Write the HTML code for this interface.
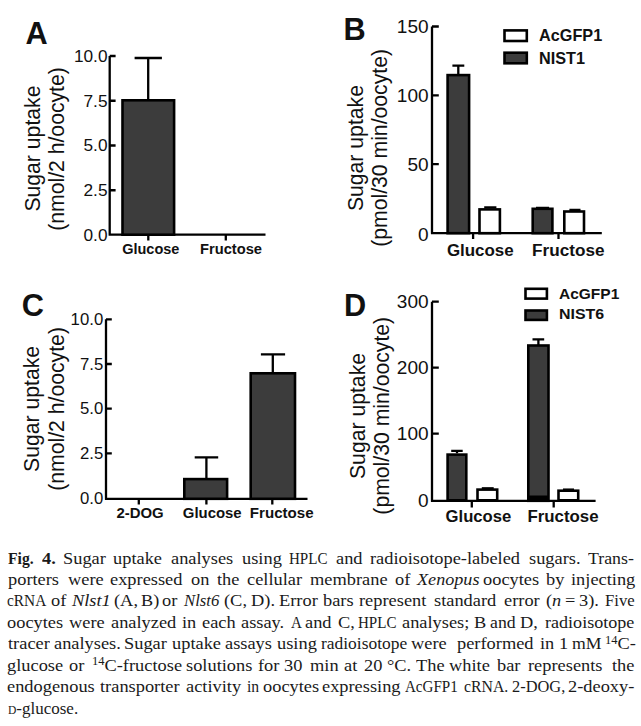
<!DOCTYPE html>
<html><head><meta charset="utf-8">
<style>
html,body{margin:0;padding:0;background:#fff;width:641px;height:726px;overflow:hidden;}
svg{position:absolute;left:0;top:0;}
.t{font-family:"Liberation Sans",sans-serif;fill:#111;}
.b{font-family:"Liberation Sans",sans-serif;font-weight:bold;fill:#111;}
#cap{position:absolute;left:0;top:0;width:641px;height:726px;font-family:"Liberation Serif",serif;font-size:17.5px;color:#1a1a1a;}
#cap sup{font-size:0.68em;line-height:0;vertical-align:0;position:relative;top:-0.45em;}
#cap>span{position:absolute;white-space:nowrap;line-height:20px;height:20px;transform-origin:0 15.9px;}
#cap .sc{font-size:0.68em;}
</style></head><body>
<svg width="641" height="726" viewBox="0 0 641 726">
<g stroke="#000" fill="none" stroke-width="2.3">
<!-- Panel A -->
<path d="M109.7 56V234.7M109.7 56H115.6M109.7 100.75H115.6M109.7 145.5H115.6M109.7 190.25H115.6M108.6 234.7H265.5M148.3 234.7V240.6M225.8 234.7V240.6"/>
<path d="M148.2 99V58M134.6 58H161.9"/>
<rect x="122.5" y="100.3" width="51.6" height="134.4" fill="#3c3c3c" stroke-width="2.6"/>
</g>
<text class="b" font-size="32" text-anchor="middle" transform="translate(36.5,43.9) scale(0.96,1)">A</text>
<g class="t" font-size="16.3" text-anchor="end">
<text transform="translate(107.5,61.8) scale(1.06,1)">10.0</text><text transform="translate(107.5,106.5) scale(1.06,1)">7.5</text><text transform="translate(107.5,151.3) scale(1.06,1)">5.0</text><text transform="translate(107.5,196) scale(1.06,1)">2.5</text><text transform="translate(107.5,240.8) scale(1.06,1)">0.0</text>
</g>
<g class="b" font-size="14.3" text-anchor="middle"><text transform="translate(150.8,254) scale(1.015,1)">Glucose</text><text transform="translate(231,254) scale(1.028,1)">Fructose</text></g>
<g class="t" font-size="21.2" text-anchor="middle">
<text transform="translate(40,148.6) rotate(-90)">Sugar uptake</text>
<text transform="translate(64.4,149) rotate(-90)">(nmol/2 h/oocyte)</text>
</g>

<!-- Panel B -->
<g stroke="#000" fill="none" stroke-width="2.3">
<path d="M432 26.5V233.2M432 26.5H438.8M432 95.3H438.8M432 164.1H438.8M430.9 233.2H601.8M473.1 233.2V239M558.5 233.2V239"/>
<path d="M458.3 74V65.6M452.4 65.6H464.3"/>
<path d="M484.2 207.4H496.4"/>
<path d="M536 207.9H549.1"/>
<path d="M569.4 209.9H580.5"/>
<rect x="447.6" y="75.1" width="21.5" height="158.1" fill="#3c3c3c" stroke-width="2.6"/>
<rect x="479.5" y="209.4" width="20.4" height="23.8" fill="#fff" stroke-width="2.6"/>
<rect x="532.7" y="208.8" width="19.7" height="24.4" fill="#3c3c3c" stroke-width="2.6"/>
<rect x="564.3" y="211.5" width="19.7" height="21.7" fill="#fff" stroke-width="2.6"/>
<rect x="504.5" y="30.4" width="22.3" height="10.6" fill="#fff" stroke-width="2.6"/>
<rect x="504.5" y="52.7" width="22.3" height="10.6" fill="#3c3c3c" stroke-width="2.6"/>
</g>
<text class="b" font-size="32" text-anchor="middle" transform="translate(354.5,39.6) scale(0.96,1)">B</text>
<g class="t" font-size="18" text-anchor="end">
<text transform="translate(428.6,33) scale(1.06,1)">150</text><text transform="translate(428.6,101.8) scale(1.06,1)">100</text><text transform="translate(428.6,170.6) scale(1.06,1)">50</text><text transform="translate(428.6,240.6) scale(1.06,1)">0</text>
</g>
<g class="b" font-size="15.7"><text transform="translate(539,41.3) scale(1.035,1)">AcGFP1</text><text transform="translate(539,63.6) scale(1.035,1)">NIST1</text></g>
<g class="b" font-size="16.7" text-anchor="middle"><text transform="translate(480.3,256.2) scale(1.015,1)">Glucose</text><text transform="translate(568.3,256.2) scale(1.028,1)">Fructose</text></g>
<g class="t" font-size="21.2" text-anchor="middle">
<text transform="translate(363,148.1) rotate(-90)">Sugar uptake</text>
<text transform="translate(387.3,147.9) rotate(-90)">(pmol/30 min/oocyte)</text>
</g>

<!-- Panel C -->
<g stroke="#000" fill="none" stroke-width="2.3">
<path d="M106 319.3V498.8M106 319.3H111.8M106 364H111.8M106 408.7H111.8M106 453.4H111.8M104.9 498.8H307.5M138.8 498.8V504.5M206.4 498.8V504.5M272.3 498.8V504.5"/>
<path d="M206.4 478.5V457.4M194.7 457.4H218.2"/>
<path d="M272.8 372V354.3M260.9 354.3H285.1"/>
<rect x="184.3" y="479.1" width="42.8" height="19.7" fill="#3c3c3c" stroke-width="2.6"/>
<rect x="250.7" y="373.3" width="44.3" height="125.5" fill="#3c3c3c" stroke-width="2.6"/>
</g>
<text class="b" font-size="32" text-anchor="middle" transform="translate(32.8,315.5) scale(0.96,1)">C</text>
<g class="t" font-size="15.8" text-anchor="end">
<text transform="translate(103.2,324.9) scale(1.06,1)">10.0</text><text transform="translate(103.2,369.6) scale(1.06,1)">7.5</text><text transform="translate(103.2,414.3) scale(1.06,1)">5.0</text><text transform="translate(103.2,459) scale(1.06,1)">2.5</text><text transform="translate(103.2,503.7) scale(1.06,1)">0.0</text>
</g>
<g class="b" font-size="14.7" text-anchor="middle"><text transform="translate(140.1,517.9) scale(1.015,1)">2-DOG</text><text transform="translate(212.2,517.9) scale(1.015,1)">Glucose</text><text transform="translate(281.7,517.9) scale(1.028,1)">Fructose</text></g>
<g class="t" font-size="21.2" text-anchor="middle">
<text transform="translate(38.7,408.9) rotate(-90)">Sugar uptake</text>
<text transform="translate(63.5,408.9) rotate(-90)">(nmol/2 h/oocyte)</text>
</g>

<!-- Panel D -->
<g stroke="#000" fill="none" stroke-width="2.3">
<path d="M432 301.7V500.8M432 301.7H438.8M432 367.7H438.8M432 433.7H438.8M430.9 500.8H595.6M471.8 500.8V507.5M553.7 500.8V507.5"/>
<path d="M457 453.3V450.8M451.2 450.8H462.7"/>
<path d="M538.4 345V339.3M532.5 339.3H544.2"/>
<path d="M481.8 488.3H493.7"/>
<path d="M563 489.6H574"/>
<rect x="447.6" y="454.6" width="18.7" height="45.7" fill="#3c3c3c" stroke-width="2.6"/>
<rect x="477.5" y="489.6" width="19.7" height="10.7" fill="#fff" stroke-width="2.6"/>
<rect x="528.3" y="345.5" width="20.2" height="155.3" fill="#3c3c3c" stroke-width="2.6"/>
<rect x="528" y="495.5" width="21" height="4.5" fill="#000" stroke="none"/>
<rect x="558.5" y="490.7" width="19.7" height="9.6" fill="#fff" stroke-width="2.6"/>
<rect x="525.5" y="288.8" width="21.4" height="9.8" fill="#fff" stroke-width="2.6"/>
<rect x="525.5" y="310.5" width="21.4" height="9.4" fill="#3c3c3c" stroke-width="2.6"/>
</g>
<text class="b" font-size="32" text-anchor="middle" transform="translate(355.2,315.8) scale(0.96,1)">D</text>
<g class="t" font-size="18" text-anchor="end">
<text transform="translate(428.6,308.2) scale(1.06,1)">300</text><text transform="translate(428.6,374.2) scale(1.06,1)">200</text><text transform="translate(428.6,440.2) scale(1.06,1)">100</text><text transform="translate(428.6,507.4) scale(1.06,1)">0</text>
</g>
<g class="b" font-size="15.5"><text x="559" y="299.2">AcGFP1</text><text transform="translate(559,319.3) scale(1.03,1)">NIST6</text></g>
<g class="b" font-size="16.4" text-anchor="middle"><text transform="translate(478.4,522) scale(1.015,1)">Glucose</text><text transform="translate(563,522) scale(1.028,1)">Fructose</text></g>
<g class="t" font-size="21.2" text-anchor="middle">
<text transform="translate(364.5,416) rotate(-90)">Sugar uptake</text>
<text transform="translate(389,415.75) rotate(-90)">(pmol/30 min/oocyte)</text>
</g>
</svg>
<div id="cap">
<span style="left:7.8px;top:547.6px;transform:scaleX(0.895)"><b>Fig.</b></span>
<span style="left:41.7px;top:547.6px;transform:scaleX(1.050)"><b>4.</b></span>
<span style="left:62.5px;top:547.6px;transform:scaleX(1.050)">Sugar</span>
<span style="left:113.4px;top:547.6px;transform:scaleX(1.050)">uptake</span>
<span style="left:171.4px;top:547.6px;transform:scaleX(1.050)">analyses</span>
<span style="left:242.2px;top:547.6px;transform:scaleX(1.050)">using</span>
<span style="left:289.3px;top:547.6px;transform:scaleX(0.860)">HPLC</span>
<span style="left:335.9px;top:547.6px;transform:scaleX(1.050)">and</span>
<span style="left:370.0px;top:547.6px;transform:scaleX(1.050)">radioisotope-labeled</span>
<span style="left:529.0px;top:547.6px;transform:scaleX(1.050)">sugars.</span>
<span style="left:588.0px;top:547.6px;transform:scaleX(1.019)">Trans-</span>
<span style="left:7.7px;top:569.0px;transform:scaleX(1.050)">porters</span>
<span style="left:67.9px;top:569.0px;transform:scaleX(1.050)">were</span>
<span style="left:110.4px;top:569.0px;transform:scaleX(1.050)">expressed</span>
<span style="left:190.5px;top:569.0px;transform:scaleX(1.050)">on</span>
<span style="left:216.7px;top:569.0px;transform:scaleX(1.050)">the</span>
<span style="left:247.4px;top:569.0px;transform:scaleX(1.050)">cellular</span>
<span style="left:309.6px;top:569.0px;transform:scaleX(1.050)">membrane</span>
<span style="left:395.4px;top:569.0px;transform:scaleX(1.050)">of</span>
<span style="left:416.8px;top:569.0px;transform:scaleX(1.037)"><i>Xenopus</i></span>
<span style="left:483.3px;top:569.0px;transform:scaleX(1.050)">oocytes</span>
<span style="left:546.4px;top:569.0px;transform:scaleX(1.050)">by</span>
<span style="left:570.5px;top:569.0px;transform:scaleX(1.050)">injecting</span>
<span style="left:7.4px;top:590.4px;transform:scaleX(0.877)">cRNA</span>
<span style="left:50.5px;top:590.4px;transform:scaleX(1.050)">of</span>
<span style="left:72.4px;top:590.4px;transform:scaleX(1.050)"><i>Nlst1</i></span>
<span style="left:113.5px;top:590.4px;transform:scaleX(1.050)">(A,</span>
<span style="left:140.5px;top:590.4px;transform:scaleX(1.040)">B)</span>
<span style="left:161.8px;top:590.4px;transform:scaleX(1.050)">or</span>
<span style="left:184.4px;top:590.4px;transform:scaleX(0.955)"><i>Nlst6</i></span>
<span style="left:223.6px;top:590.4px;transform:scaleX(1.050)">(C,</span>
<span style="left:251.3px;top:590.4px;transform:scaleX(1.050)">D).</span>
<span style="left:278.8px;top:590.4px;transform:scaleX(1.050)">Error</span>
<span style="left:322.5px;top:590.4px;transform:scaleX(1.050)">bars</span>
<span style="left:359.0px;top:590.4px;transform:scaleX(1.050)">represent</span>
<span style="left:434.1px;top:590.4px;transform:scaleX(1.050)">standard</span>
<span style="left:504.0px;top:590.4px;transform:scaleX(1.050)">error</span>
<span style="left:545.6px;top:590.4px;transform:scaleX(1.050)">(<i>n</i></span>
<span style="left:564.5px;top:590.4px;transform:scaleX(1.050)">=</span>
<span style="left:578.8px;top:590.4px;transform:scaleX(1.050)">3).</span>
<span style="left:605.3px;top:590.4px;transform:scaleX(0.955)">Five</span>
<span style="left:7.3px;top:611.9px;transform:scaleX(1.050)">oocytes</span>
<span style="left:68.6px;top:611.9px;transform:scaleX(1.050)">were</span>
<span style="left:110.5px;top:611.9px;transform:scaleX(1.050)">analyzed</span>
<span style="left:181.6px;top:611.9px;transform:scaleX(1.050)">in</span>
<span style="left:201.7px;top:611.9px;transform:scaleX(1.050)">each</span>
<span style="left:241.3px;top:611.9px;transform:scaleX(1.050)">assay.</span>
<span style="left:290.9px;top:611.9px;transform:scaleX(0.860)">A</span>
<span style="left:304.9px;top:611.9px;transform:scaleX(1.050)">and</span>
<span style="left:338.0px;top:611.9px;transform:scaleX(1.050)">C,</span>
<span style="left:358.3px;top:611.9px;transform:scaleX(0.860)">HPLC</span>
<span style="left:401.7px;top:611.9px;transform:scaleX(1.050)">analyses;</span>
<span style="left:474.0px;top:611.9px;transform:scaleX(1.050)">B</span>
<span style="left:490.4px;top:611.9px;transform:scaleX(1.014)">and</span>
<span style="left:519.9px;top:611.9px;transform:scaleX(1.050)">D,</span>
<span style="left:545.0px;top:611.9px;transform:scaleX(1.033)">radioisotope</span>
<span style="left:7.8px;top:633.3px;transform:scaleX(1.050)">tracer</span>
<span style="left:53.8px;top:633.3px;transform:scaleX(1.050)">analyses.</span>
<span style="left:123.6px;top:633.3px;transform:scaleX(1.050)">Sugar</span>
<span style="left:171.8px;top:633.3px;transform:scaleX(1.050)">uptake</span>
<span style="left:225.0px;top:633.3px;transform:scaleX(1.050)">assays</span>
<span style="left:277.1px;top:633.3px;transform:scaleX(1.050)">using</span>
<span style="left:320.9px;top:633.3px;transform:scaleX(0.996)">radioisotope</span>
<span style="left:411.1px;top:633.3px;transform:scaleX(1.050)">were</span>
<span style="left:456.9px;top:633.3px;transform:scaleX(1.050)">performed</span>
<span style="left:539.5px;top:633.3px;transform:scaleX(1.050)">in</span>
<span style="left:558.8px;top:633.3px;transform:scaleX(1.050)">1</span>
<span style="left:571.7px;top:633.3px;transform:scaleX(1.011)">mM</span>
<span style="left:604.6px;top:633.3px;transform:scaleX(1.050)"><sup>14</sup>C-</span>
<span style="left:7.2px;top:654.7px;transform:scaleX(1.050)">glucose</span>
<span style="left:68.7px;top:654.7px;transform:scaleX(1.050)">or</span>
<span style="left:91.8px;top:654.7px;transform:scaleX(1.050)"><sup>14</sup>C-fructose</span>
<span style="left:186.3px;top:654.7px;transform:scaleX(1.050)">solutions</span>
<span style="left:258.1px;top:654.7px;transform:scaleX(1.050)">for</span>
<span style="left:284.0px;top:654.7px;transform:scaleX(1.050)">30</span>
<span style="left:309.6px;top:654.7px;transform:scaleX(1.050)">min</span>
<span style="left:343.8px;top:654.7px;transform:scaleX(1.050)">at</span>
<span style="left:364.1px;top:654.7px;transform:scaleX(1.050)">20</span>
<span style="left:386.6px;top:654.7px;transform:scaleX(1.050)">°C.</span>
<span style="left:415.8px;top:654.7px;transform:scaleX(1.050)">The</span>
<span style="left:449.0px;top:654.7px;transform:scaleX(1.050)">white</span>
<span style="left:497.2px;top:654.7px;transform:scaleX(1.050)">bar</span>
<span style="left:528.0px;top:654.7px;transform:scaleX(1.050)">represents</span>
<span style="left:611.8px;top:654.7px;transform:scaleX(1.050)">the</span>
<span style="left:7.3px;top:676.1px;transform:scaleX(1.050)">endogenous</span>
<span style="left:99.7px;top:676.1px;transform:scaleX(1.050)">transporter</span>
<span style="left:186.4px;top:676.1px;transform:scaleX(1.050)">activity</span>
<span style="left:247.1px;top:676.1px;transform:scaleX(0.892)">in</span>
<span style="left:262.9px;top:676.1px;transform:scaleX(1.050)">oocytes</span>
<span style="left:322.3px;top:676.1px;transform:scaleX(1.049)">expressing</span>
<span style="left:405.0px;top:676.1px;transform:scaleX(0.860)">AcGFP1</span>
<span style="left:464.4px;top:676.1px;transform:scaleX(0.901)">cRNA.</span>
<span style="left:511.5px;top:676.1px;transform:scaleX(0.937)">2-DOG,</span>
<span style="left:567.6px;top:676.1px;transform:scaleX(1.050)">2-deoxy-</span>
<span style="left:7.5px;top:697.5px;transform:scaleX(0.971)"><span class="sc">D</span>-glucose.</span>
</div>
</body></html>
